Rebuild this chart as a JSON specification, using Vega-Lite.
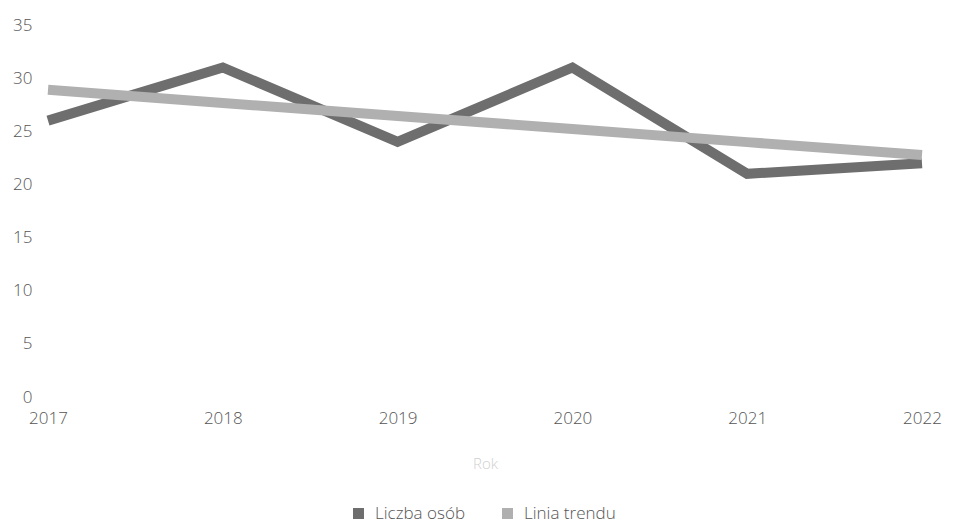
{
  "$schema": "https://vega.github.io/schema/vega-lite/v6.json",
  "autosize": "none",
  "width": 874,
  "height": 372,
  "padding": {"left": 48, "top": 25, "right": 35, "bottom": 129},
  "background": "white",
  "config": {
    "view": {"stroke": null},
    "font": "Open Sans",
    "axis": {"labelFont": "Open Sans", "labelFontSize": 17, "labelColor": "#555", "labelFontWeight": 300, "grid": false, "domain": false, "ticks": false},
    "legend": {"labelFont": "Open Sans", "labelFontSize": 17, "labelColor": "#555", "labelFontWeight": 300}
  },
  "data": {
    "values": [
      {"Rok": "2017", "seria": "Liczba osób", "wartosc": 26},
      {"Rok": "2018", "seria": "Liczba osób", "wartosc": 31},
      {"Rok": "2019", "seria": "Liczba osób", "wartosc": 24},
      {"Rok": "2020", "seria": "Liczba osób", "wartosc": 31},
      {"Rok": "2021", "seria": "Liczba osób", "wartosc": 21},
      {"Rok": "2022", "seria": "Liczba osób", "wartosc": 22},
      {"Rok": "2017", "seria": "Linia trendu", "wartosc": 28.9},
      {"Rok": "2018", "seria": "Linia trendu", "wartosc": 27.67},
      {"Rok": "2019", "seria": "Linia trendu", "wartosc": 26.44},
      {"Rok": "2020", "seria": "Linia trendu", "wartosc": 25.21},
      {"Rok": "2021", "seria": "Linia trendu", "wartosc": 23.98},
      {"Rok": "2022", "seria": "Linia trendu", "wartosc": 22.76}
    ]
  },
  "mark": {"type": "line", "strokeWidth": 10, "strokeCap": "butt", "strokeJoin": "miter"},
  "encoding": {
    "x": {
      "field": "Rok", "type": "ordinal",
      "scale": {"type": "point", "padding": 0},
      "axis": {"labelAngle": 0, "labelPadding": 13, "title": "Rok", "titleColor": "#d0d0d0", "titleFontSize": 15, "titleFontWeight": 300, "titlePadding": 30}
    },
    "y": {
      "field": "wartosc", "type": "quantitative",
      "scale": {"domain": [0, 35], "nice": false, "zero": true},
      "axis": {"values": [0, 5, 10, 15, 20, 25, 30, 35], "title": null, "labelPadding": 16}
    },
    "color": {
      "field": "seria", "type": "nominal",
      "scale": {"domain": ["Liczba osób", "Linia trendu"], "range": ["#6e6e6e", "#b0b0b0"]},
      "legend": {"title": null, "orient": "none", "legendX": 302, "legendY": 480, "direction": "horizontal", "symbolType": "square", "symbolSize": 25, "symbolStrokeWidth": 6, "columnPadding": 28, "labelOffset": 8}
    }
  }
}
